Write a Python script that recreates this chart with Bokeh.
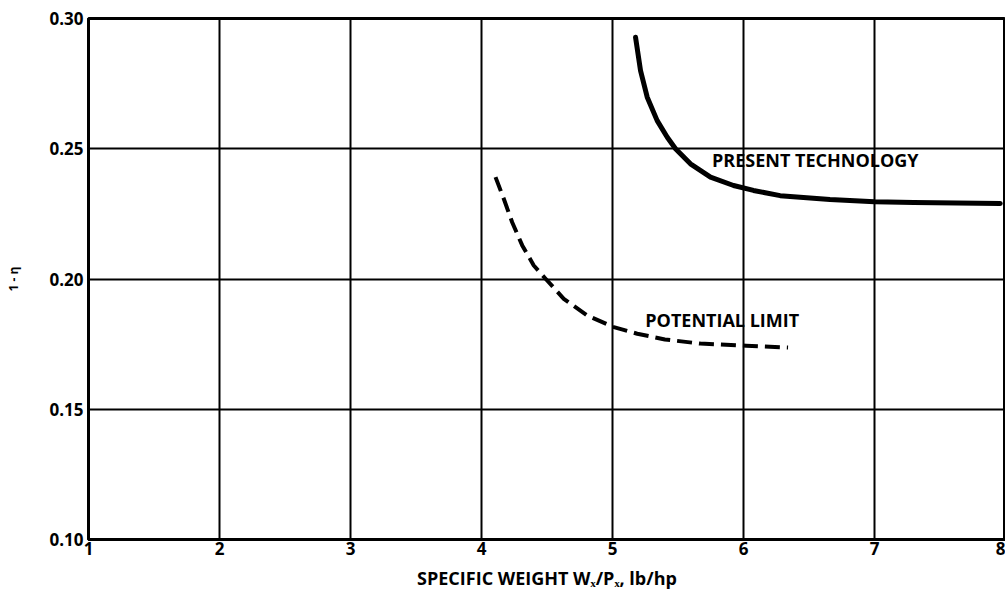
from bokeh.plotting import figure
from bokeh.models import Label, FixedTicker, Range1d
from bokeh.embed import file_html
from bokeh.resources import INLINE

# Present technology curve: specific weight (lb/hp) vs 1 - eta
present_x = [5.176, 5.214, 5.265, 5.341, 5.418, 5.481, 5.595, 5.748, 5.924, 6.076,
             6.28, 6.66, 7.00, 7.30, 7.96]
present_y = [0.2928, 0.2800, 0.2698, 0.2608, 0.2544, 0.2500, 0.2442, 0.2391, 0.2359, 0.2340,
             0.2320, 0.2305, 0.2297, 0.2294, 0.2290]

# Potential limit curve
limit_x = [4.107, 4.170, 4.234, 4.311, 4.399, 4.489, 4.628, 4.807, 5.010, 5.189,
           5.40, 5.67, 6.02, 6.34]
limit_y = [0.2391, 0.2308, 0.2218, 0.2129, 0.2052, 0.2001, 0.1924, 0.1860, 0.1815, 0.1790,
           0.1768, 0.1752, 0.1744, 0.1737]

x_ticks = [1, 2, 3, 4, 5, 6, 7, 8]
y_ticks = [0.10, 0.15, 0.20, 0.25, 0.30]
y_tick_labels = {0.10: "0.10", 0.15: "0.15", 0.20: "0.20", 0.25: "0.25", 0.30: "0.30"}

FONT = "Open Sans"

p = figure(width=1005, height=603, output_backend="svg", toolbar_location=None,
           x_range=Range1d(1, 8), y_range=Range1d(0.10, 0.30),
           min_border_left=88, min_border_right=0, min_border_top=18, min_border_bottom=64)

p.background_fill_color = "white"
p.border_fill_color = "white"
p.outline_line_color = "black"
p.outline_line_width = 3

for ax in (p.xaxis, p.yaxis):
    ax.axis_line_color = "black"
    ax.axis_line_width = 3
    ax.major_tick_in = 0
    ax.major_tick_out = 0
    ax.minor_tick_line_color = None
    ax.major_label_text_font = FONT
    ax.major_label_text_font_style = "bold"
    ax.major_label_text_font_size = "17px"
    ax.major_label_text_color = "black"
    ax.axis_label_text_font = FONT
    ax.axis_label_text_font_style = "bold"
    ax.axis_label_text_color = "black"

p.xaxis.ticker = FixedTicker(ticks=x_ticks)
p.yaxis.ticker = FixedTicker(ticks=y_ticks)
p.yaxis.major_label_overrides = y_tick_labels
p.xaxis.major_label_standoff = 2
p.yaxis.major_label_standoff = 5

p.xaxis.axis_label = "SPECIFIC WEIGHT W\u2093/P\u2093, lb/hp"
p.xaxis.axis_label_text_font_size = "18px"
p.xaxis.axis_label_standoff = 8
p.yaxis.axis_label = "1 - \u03b7"
p.yaxis.axis_label_text_font_size = "12px"
p.yaxis.axis_label_standoff = 24

p.xgrid.ticker = FixedTicker(ticks=x_ticks)
p.ygrid.ticker = FixedTicker(ticks=y_ticks)
for g in (p.xgrid, p.ygrid):
    g.grid_line_color = "black"
    g.grid_line_width = 2
    g.grid_line_alpha = 1.0

p.line(present_x, present_y, line_color="black", line_width=5, line_cap="round",
       line_join="round")
p.line(limit_x, limit_y, line_color="black", line_width=4, line_dash="15 7",
       line_join="round")

p.add_layout(Label(x=5.76, y=0.2458, text="PRESENT TECHNOLOGY", text_font=FONT,
                   text_font_style="bold", text_font_size="18px", text_color="black",
                   text_baseline="middle"))
p.add_layout(Label(x=5.25, y=0.1842, text="POTENTIAL LIMIT", text_font=FONT,
                   text_font_style="bold", text_font_size="18px", text_color="black",
                   text_baseline="middle"))

open("out.html", "w").write(file_html(p, INLINE))
